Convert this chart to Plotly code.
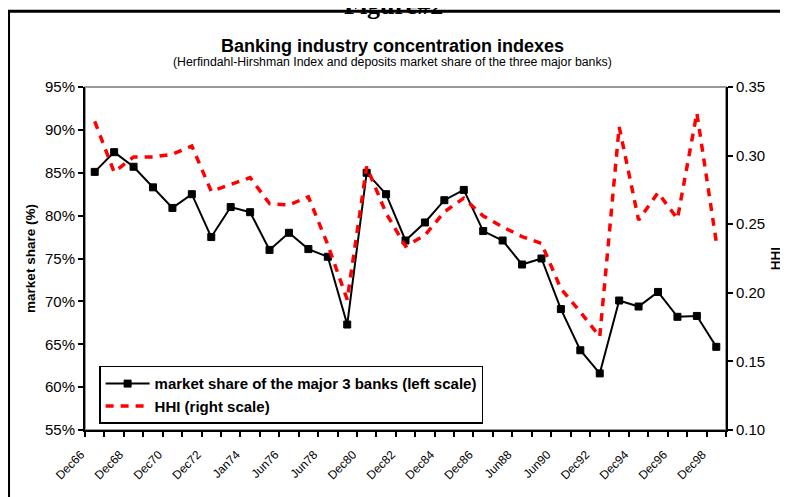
import plotly.graph_objects as go

# ---- data ----
tick_labels = ["Dec66", "Dec68", "Dec70", "Dec72", "Jan74", "Jun76", "Jun78", "Dec80",
               "Dec82", "Dec84", "Dec86", "Jun88", "Jun90", "Dec92", "Dec94", "Dec96", "Dec98"]

market_share = [85.1, 87.4, 85.7, 83.3, 80.9, 82.5, 77.5, 81.0, 80.4, 76.0, 78.0,
                76.1, 75.2, 67.3, 85.0, 82.5, 77.1, 79.2, 81.8, 83.0, 78.2, 77.1,
                74.3, 75.0, 69.1, 64.3, 61.6, 70.1, 69.4, 71.1, 68.2, 68.3, 64.7]

hhi = [0.325, 0.288, 0.299, 0.299, 0.301, 0.307, 0.274, 0.279, 0.284, 0.265, 0.264,
       0.270, 0.235, 0.195, 0.292, 0.258, 0.234, 0.242, 0.259, 0.269, 0.256, 0.248,
       0.241, 0.236, 0.203, 0.186, 0.168, 0.321, 0.253, 0.273, 0.254, 0.331, 0.237]

n = len(market_share)
xs = list(range(n))

# category boundaries (tick marks) and labels on every other category
bounds = [i - 0.5 for i in range(n + 1)]
bound_text = []
for i in range(n + 1):
    if i % 2 == 0 and i // 2 < len(tick_labels):
        bound_text.append(tick_labels[i // 2])
    else:
        bound_text.append("")

FONT = "Arial, Liberation Sans, sans-serif"

fig = go.Figure()
fig.add_trace(go.Scatter(
    x=xs, y=market_share, name="<b>market share of the major 3 banks (left scale)</b>",
    mode="lines+markers", line=dict(color="black", width=2),
    marker=dict(symbol="square", size=7, color="black", line=dict(color="black", width=1)),
    xaxis="x", yaxis="y"))
fig.add_trace(go.Scatter(
    x=xs, y=hhi, name="<b>HHI (right scale)</b>",
    mode="lines", line=dict(color="#FF0000", width=3.5, dash="8px,7px"),
    xaxis="x", yaxis="y2"))

xr = [-0.5, n - 0.5]
common_x = dict(range=xr, showgrid=False, zeroline=False, automargin=False)

fig.update_layout(
    width=780, height=489,
    margin=dict(l=77, r=62, t=79, b=67),
    paper_bgcolor="white", plot_bgcolor="white",
    font=dict(family=FONT, color="black"),
    showlegend=True,
    legend=dict(x=0.022, y=0.187, xanchor="left", yanchor="top",
                bgcolor="white", bordercolor="black", borderwidth=1.5,
                font=dict(size=15, family=FONT, color="black"),
                itemwidth=44, tracegroupgap=0),
    xaxis=dict(**common_x, showline=True, linecolor="black", linewidth=2,
               tickmode="array", tickvals=bounds, ticktext=bound_text,
               ticks="outside", ticklen=5, tickwidth=1.5, tickcolor="black",
               tickangle=-45, tickfont=dict(size=12, family=FONT),
               ticklabelshift=-4, ticklabelstandoff=6),
    xaxis2=dict(**common_x, overlaying="x", anchor="y", side="bottom",
                showline=False, tickmode="array", tickvals=bounds,
                ticks="inside", ticklen=4, tickwidth=1.5, tickcolor="black",
                showticklabels=False),
    yaxis=dict(range=[55, 95], dtick=5, tick0=55, ticksuffix="%",
               showgrid=False, zeroline=False, automargin=False,
               showline=True, linecolor="black", linewidth=2,
               ticks="outside", ticklen=5, tickwidth=1.5, tickcolor="black",
               tickfont=dict(size=15, family=FONT),
               title=dict(text="<b>market share (%)</b>", font=dict(size=13.5, family=FONT),
                          standoff=6)),
    yaxis3=dict(range=[55, 95], dtick=5, tick0=55, overlaying="y", side="left",
                anchor="x", showgrid=False, zeroline=False, showline=False,
                ticks="inside", ticklen=5, tickwidth=1.5, tickcolor="black",
                showticklabels=False),
    yaxis2=dict(range=[0.10, 0.35], dtick=0.05, tick0=0.10, tickformat=".2f",
                overlaying="y", side="right", anchor="x",
                showgrid=False, zeroline=False, automargin=False,
                showline=True, linecolor="black", linewidth=2,
                ticks="outside", ticklen=5, tickwidth=1.5, tickcolor="black",
                tickfont=dict(size=15, family=FONT),
                title=dict(text="<b>HHI</b>", font=dict(size=13.5, family=FONT), standoff=6)),
    yaxis4=dict(range=[0.10, 0.35], dtick=0.05, tick0=0.10, overlaying="y", side="right",
                anchor="x", showgrid=False, zeroline=False, showline=False,
                ticks="inside", ticklen=5, tickwidth=1.5, tickcolor="black",
                showticklabels=False),
    shapes=[
        # plot-area border (grey top edge)
        dict(type="rect", xref="paper", yref="paper", x0=0, x1=1, y0=0, y1=1,
             line=dict(color="#999999", width=2), layer="below"),
        # outer figure frame
        dict(type="rect", xref="paper", yref="paper",
             x0=-0.1193, x1=1.13, y0=-0.25, y1=1.2205,
             line=dict(color="black", width=3)),
    ],
    annotations=[
        dict(text="<b>Figure#2</b>", xref="paper", yref="paper", x=0.482, y=1.237,
             xanchor="center", yanchor="middle", showarrow=False,
             font=dict(family="Times New Roman, Liberation Serif, serif", size=26)),
        dict(text="<b>Banking industry concentration indexes</b>", xref="paper", yref="paper",
             x=0.479, y=1.1195, xanchor="center", yanchor="middle", showarrow=False,
             font=dict(family=FONT, size=18)),
        dict(text="(Herfindahl-Hirshman Index and deposits market share of the three major banks)",
             xref="paper", yref="paper", x=0.479, y=1.073, xanchor="center", yanchor="middle",
             showarrow=False, font=dict(family=FONT, size=12.3)),
    ],
)

fig.write_html("out.html")
